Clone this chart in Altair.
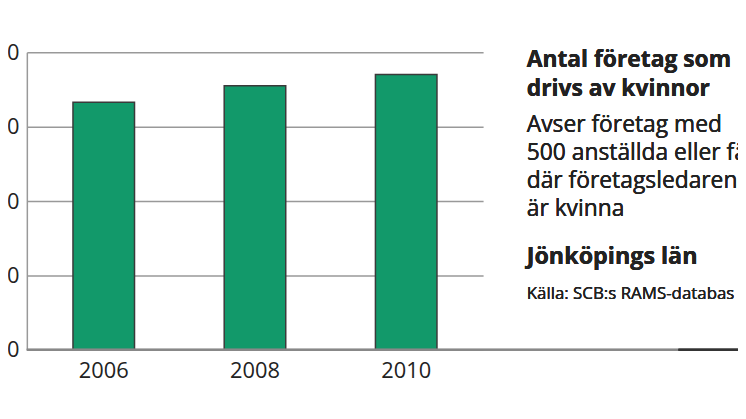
import altair as alt
import pandas as pd

years = ["2006", "2008", "2010"]
values = [3327, 3551, 3703]
title_lines = ["Antal företag som", "drivs av kvinnor"]
body_lines = ["Avser företag med", "500 anställda eller färre", "där företagsledaren", "är kvinna"]
region = "Jönköpings län"
source = "Källa: SCB:s RAMS-databas"

FONT = "Open Sans"
df = pd.DataFrame({"year": years, "value": values})

base = alt.Chart(df)

bars = base.mark_bar(color="#12996a", stroke="#3a3a3a", strokeWidth=1.5).encode(
    x=alt.X("year:N", title=None,
            scale=alt.Scale(paddingInner=0.593, paddingOuter=0.305),
            axis=alt.Axis(labelAngle=0, domain=False, ticks=False, labelFontSize=22,
                          labelFont=FONT, labelColor="#222", labelPadding=11)),
    y=alt.Y("value:Q", title=None,
            scale=alt.Scale(domain=[0, 4000]),
            axis=alt.Axis(values=[0, 1000, 2000, 3000, 4000], grid=True, gridColor="#999",
                          gridWidth=1.5, domainColor="#999", domainWidth=1.5, ticks=False,
                          labelFontSize=22, labelFont=FONT, labelColor="#222", labelPadding=8,
                          labelExpr="replace(format(datum.value, ','), ',', ' ')")),
)

baseline_rule = alt.Chart(df).mark_rule(color="#888", strokeWidth=2).encode(
    x=alt.value(0), x2=alt.value(718), y=alt.value(300))
dark_rule = alt.Chart(df).mark_rule(color="#333", strokeWidth=2).encode(
    x=alt.value(657), x2=alt.value(718), y=alt.value(300))

TX = 504
title_t = alt.Chart(df).mark_text(align="left", baseline="alphabetic", font=FONT, fontSize=23,
                                  fontWeight="bold", lineHeight=29, color="#222").encode(
    x=alt.value(TX), y=alt.value(15), text=alt.value(title_lines))
body_t = alt.Chart(df).mark_text(align="left", baseline="alphabetic", font=FONT, fontSize=23,
                                 lineHeight=28.5, color="#222").encode(
    x=alt.value(TX), y=alt.value(80), text=alt.value(body_lines))
region_t = alt.Chart(df).mark_text(align="left", baseline="alphabetic", font=FONT, fontSize=23.5,
                                   fontWeight="bold", color="#222").encode(
    x=alt.value(TX), y=alt.value(213), text=alt.value(region))
source_t = alt.Chart(df).mark_text(align="left", baseline="alphabetic", font=FONT, fontSize=17,
                                   color="#222").encode(
    x=alt.value(TX), y=alt.value(249), text=alt.value(source))

chart = alt.layer(bars, baseline_rule, dark_rule, title_t, body_t, region_t, source_t).properties(
    width=460, height=300,
    background="white",
    autosize=alt.AutoSizeParams(type="none"),
    padding={"left": 19, "top": 43, "right": 257, "bottom": 59},
).configure_view(strokeWidth=0, stroke=None)

chart.save("out.html", embed_options={"renderer": "svg", "actions": False})
